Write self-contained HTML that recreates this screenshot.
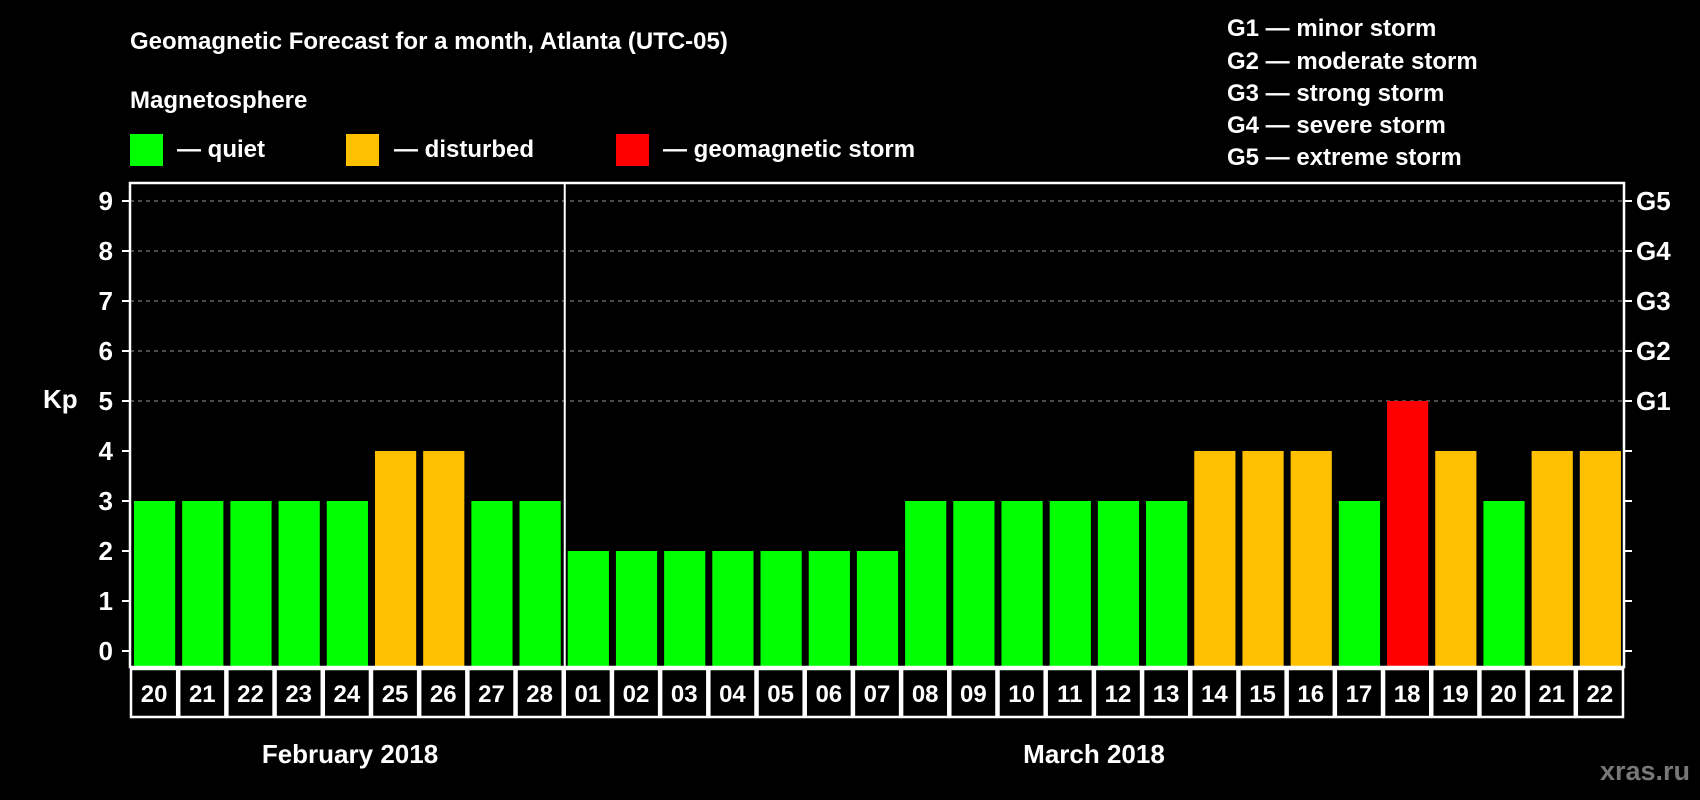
<!DOCTYPE html>
<html><head><meta charset="utf-8"><style>
html,body{margin:0;padding:0;background:#000;}
svg{display:block;font-family:"Liberation Sans",Arial,sans-serif;font-weight:bold;}
</style></head><body>
<svg id="chart" width="1700" height="800" viewBox="0 0 1700 800">
<text x="130" y="49" fill="#fff" font-size="24">Geomagnetic Forecast for a month, Atlanta (UTC-05)</text>
<text x="130" y="108" fill="#fff" font-size="24">Magnetosphere</text>
<g><rect x="130" y="134" width="33" height="32" fill="#00ff00"/><text x="177" y="157" fill="#fff" font-size="24">— quiet</text></g>
<g><rect x="346" y="134" width="33" height="32" fill="#ffc000"/><text x="394" y="157" fill="#fff" font-size="24">— disturbed</text></g>
<g><rect x="616" y="134" width="33" height="32" fill="#ff0000"/><text x="663" y="157" fill="#fff" font-size="24">— geomagnetic storm</text></g>
<g fill="#fff" font-size="24">
<text x="1227" y="36">G1 — minor storm</text>
<text x="1227" y="69">G2 — moderate storm</text>
<text x="1227" y="101">G3 — strong storm</text>
<text x="1227" y="133">G4 — severe storm</text>
<text x="1227" y="165">G5 — extreme storm</text>
</g>
<text x="43" y="408" fill="#fff" font-size="26">Kp</text>
<text x="350" y="763" fill="#fff" font-size="26" text-anchor="middle">February 2018</text>
<text x="1094" y="763" fill="#fff" font-size="26" text-anchor="middle">March 2018</text>
<text x="1690" y="780" fill="#777" font-size="27" text-anchor="end">xras.ru</text>
<g id="plot"></g>
</svg>
<script>
const days = ["20","21","22","23","24","25","26","27","28","01","02","03","04","05","06","07","08","09","10","11","12","13","14","15","16","17","18","19","20","21","22"];
const kp = [3,3,3,3,3,4,4,3,3,2,2,2,2,2,2,2,3,3,3,3,3,3,4,4,4,3,5,4,3,4,4];
const yTicks = [0,1,2,3,4,5,6,7,8,9];
const gLabels = ["","","","","","G1","G2","G3","G4","G5"];
const monthSplit = 9;

const NS="http://www.w3.org/2000/svg";
const L=130,R=1624,T=183,B=667,Y0=651,UNIT=50;
const slot=(R-L)/days.length;
const y=v=>Y0-v*UNIT;
const x=i=>L+i*slot;
const plot=document.getElementById('plot');
function mk(tag,attrs,parent){const e=document.createElementNS(NS,tag);for(const k in attrs)e.setAttribute(k,attrs[k]);(parent||plot).appendChild(e);return e;}
function color(v){return v>=5?"#ff0000":(v>=4?"#ffc000":"#00ff00");}

yTicks.forEach((t,i)=>{
  if(t>=5){const g=mk('line',{x1:L,x2:R,y1:y(t),y2:y(t),stroke:"#999","stroke-width":1,"stroke-dasharray":"4,4"});
  
  }
  const tl=mk('line',{x1:L-8,x2:L,y1:y(t),y2:y(t),stroke:"#fff","stroke-width":2});
  
  
  const tr=mk('line',{x1:R,x2:R+8,y1:y(t),y2:y(t),stroke:"#fff","stroke-width":2});
  
  
  const lb=mk('text',{x:L-17,y:y(t)+9,fill:"#fff","font-size":26,"text-anchor":"end"});
  lb.textContent=t;
  
  
  if(gLabels[i]){const gl=mk('text',{x:R+12,y:y(t)+9,fill:"#fff","font-size":26});
  gl.textContent=gLabels[i];
  
  }
});

kp.forEach((v,i)=>{
  const b=mk('rect',{x:x(i)+4,y:y(v),width:slot-7,height:B-y(v),fill:color(v)});
  
  
  const box=mk('rect',{x:x(i)+1,y:B+2,width:slot-2,height:48,fill:"#000",stroke:"#fff","stroke-width":2.5});
  
  
  const t=mk('text',{x:x(i)+slot/2,y:B+35,fill:"#fff","font-size":24,"text-anchor":"middle"});
  t.textContent=days[i];
  
  
});

const sep=mk('line',{x1:x(monthSplit)+1,x2:x(monthSplit)+1,y1:T,y2:B,stroke:"#fff","stroke-width":2});


const frame=mk('rect',{x:L,y:T,width:R-L,height:B-T,fill:"none",stroke:"#fff","stroke-width":2.5});


</script>
</body></html>
